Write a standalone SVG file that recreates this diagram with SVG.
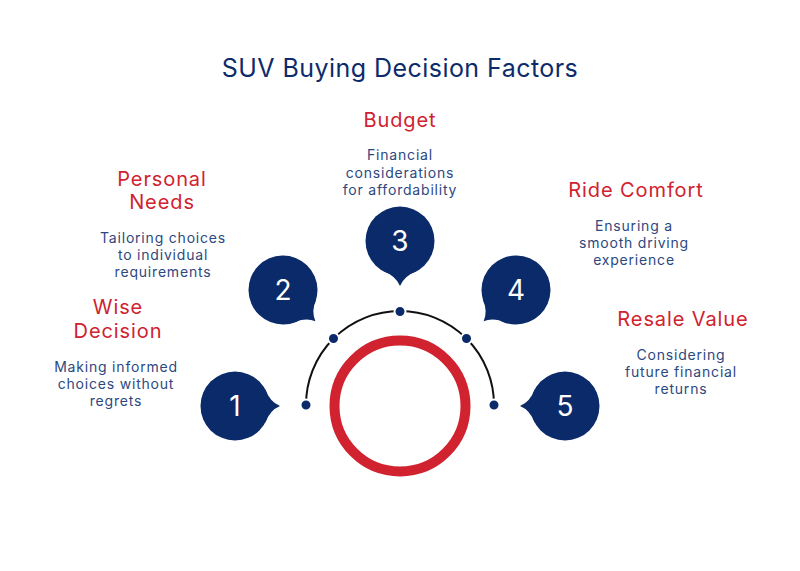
<svg xmlns="http://www.w3.org/2000/svg" xmlns:xlink="http://www.w3.org/1999/xlink" width="800" height="571" viewBox="0 0 800 571">
<style>
.title{font-family:Inter,"Noto Sans","Liberation Sans",sans-serif;font-size:25px;fill:#0d2b6b;text-anchor:middle;letter-spacing:0.45px}
.head{font-family:Inter,"Noto Sans","Liberation Sans",sans-serif;font-size:20px;fill:#d0222f;text-anchor:middle;letter-spacing:0.9px}
.desc{font-family:Inter,"Noto Sans","Liberation Sans",sans-serif;font-size:14px;fill:#2d4880;text-anchor:middle;letter-spacing:0.8px}
.num{font-family:Inter,"Noto Sans","Liberation Sans",sans-serif;font-size:28px;fill:#ffffff;text-anchor:middle}
.bub{fill:#0b2a69}
.dot{fill:#0b2a69;stroke:#ffffff;stroke-width:2}
</style>
<defs>
<g id="bubble">
<circle cx="0" cy="0" r="34.5" class="bub"/>
<path d="M30,-17 Q35,-4 45,0 Q35,4 30,17 Z" class="bub"/>
</g>
</defs>
<rect width="800" height="571" fill="#ffffff"/>
<text class="title" x="400" y="77">SUV Buying Decision Factors</text>
<g id="ring">
<circle cx="400" cy="406" r="65.5" fill="none" stroke="#d0222f" stroke-width="10"/>
</g>
<g id="connectors">
<path d="M306,405 A94,94 0 0 1 494,405" fill="none" stroke="#111111" stroke-width="2"/>
<circle class="dot" cx="306" cy="405" r="5.5"/>
<circle class="dot" cx="333.5" cy="338.5" r="5.5"/>
<circle class="dot" cx="400" cy="311.5" r="5.5"/>
<circle class="dot" cx="466.5" cy="338.5" r="5.5"/>
<circle class="dot" cx="494" cy="405" r="5.5"/>
</g>
<g id="node1">
<use xlink:href="#bubble" transform="translate(235,406)"/>
<text class="num" x="235" y="416">1</text>
<text class="head" x="118" y="314">Wise</text>
<text class="head" x="118" y="338">Decision</text>
<text class="desc" x="116" y="372">Making informed</text>
<text class="desc" x="116" y="389">choices without</text>
<text class="desc" x="116" y="406">regrets</text>
</g>
<g id="node2">
<use xlink:href="#bubble" transform="translate(283,290) rotate(44)"/>
<text class="num" x="283" y="300">2</text>
<text class="head" x="162" y="186">Personal</text>
<text class="head" x="162" y="209">Needs</text>
<text class="desc" x="163" y="243">Tailoring choices</text>
<text class="desc" x="163" y="260">to individual</text>
<text class="desc" x="163" y="277">requirements</text>
</g>
<g id="node3">
<use xlink:href="#bubble" transform="translate(400,241) rotate(90)"/>
<text class="num" x="400" y="251">3</text>
<text class="head" x="400" y="127">Budget</text>
<text class="desc" x="400" y="160">Financial</text>
<text class="desc" x="400" y="178">considerations</text>
<text class="desc" x="400" y="195">for affordability</text>
</g>
<g id="node4">
<use xlink:href="#bubble" transform="translate(516,290) rotate(136)"/>
<text class="num" x="516" y="300">4</text>
<text class="head" x="636" y="197">Ride Comfort</text>
<text class="desc" x="634" y="231">Ensuring a</text>
<text class="desc" x="634" y="248">smooth driving</text>
<text class="desc" x="634" y="265">experience</text>
</g>
<g id="node5">
<use xlink:href="#bubble" transform="translate(565,406) rotate(180)"/>
<text class="num" x="565" y="416">5</text>
<text class="head" x="683" y="326">Resale Value</text>
<text class="desc" x="681" y="360">Considering</text>
<text class="desc" x="681" y="377">future financial</text>
<text class="desc" x="681" y="394">returns</text>
</g>
</svg>
